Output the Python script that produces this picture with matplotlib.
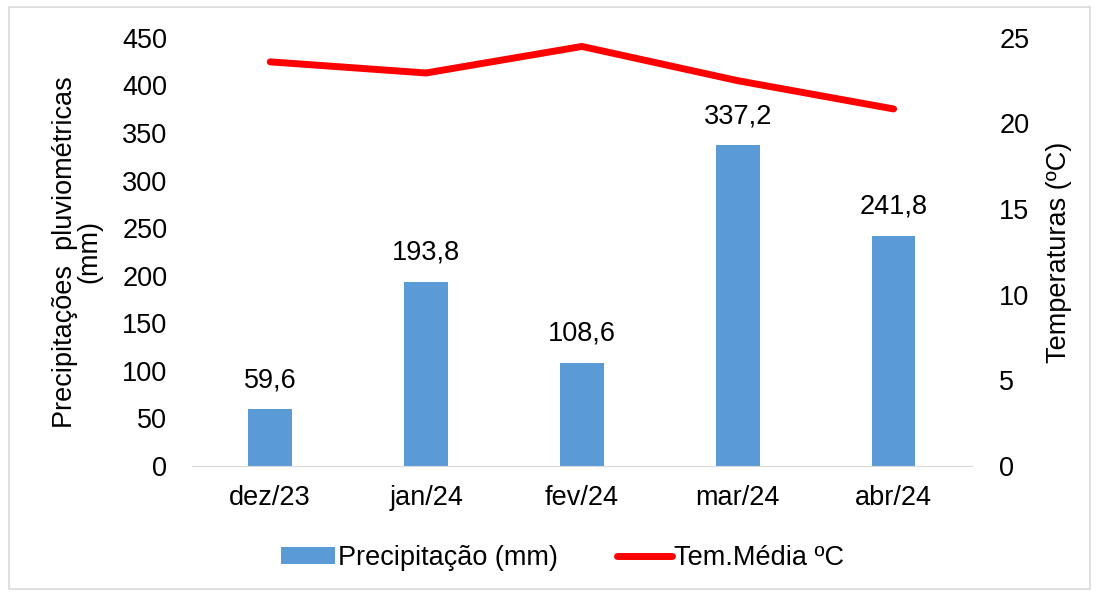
import numpy as np
import matplotlib.pyplot as plt
from matplotlib.patches import Rectangle

plt.rcParams['font.family'] = ['Liberation Sans', 'DejaVu Sans']

months = ['dez/23', 'jan/24', 'fev/24', 'mar/24', 'abr/24']
precip = [59.6, 193.8, 108.6, 337.2, 241.8]
temp = [23.6, 22.95, 24.5, 22.5, 20.85]

fig = plt.figure(figsize=(10.99, 5.92), dpi=100)
fig.patches.append(Rectangle((0.008, 0.005), 0.984, 0.983, transform=fig.transFigure,
                             fill=False, edgecolor='#d9d9d9', linewidth=1.2))

ax = fig.add_axes([0.175, 0.213, 0.709, 0.723])
x = np.arange(len(months))
bars = ax.bar(x, precip, width=0.28, color='#5b9bd5', label='Precipitação (mm)', zorder=2)
for xi, v in zip(x, precip):
    ax.text(xi, v + 17, f'{v:.1f}'.replace('.', ','), ha='center', va='bottom', fontsize=19.5)

ax.set_xlim(-0.5, len(months) - 0.5)
ax.set_ylim(0, 450)
ax.set_yticks(np.arange(0, 451, 50))
ax.set_xticks(x)
ax.set_xticklabels(months)
for s in ['top', 'right', 'left']:
    ax.spines[s].set_visible(False)
ax.spines['bottom'].set_color('#d9d9d9')
ax.tick_params(axis='both', length=0, labelsize=19.5)
ax.tick_params(axis='x', pad=14)
ax.tick_params(axis='y', pad=18)
ax.set_ylabel('Precipitações  pluviométricas\n(mm)', fontsize=19.5, linespacing=0.95, labelpad=14)

ax2 = ax.twinx()
line, = ax2.plot(x, temp, color='#ff0000', linewidth=5, solid_capstyle='round',
                 label='Tem.Média ºC', zorder=3)
ax2.set_ylim(0, 25)
ax2.set_yticks(np.arange(0, 26, 5))
for s in ['top', 'right', 'left', 'bottom']:
    ax2.spines[s].set_visible(False)
ax2.tick_params(axis='y', length=0, labelsize=19.5, pad=20)
ax2.set_ylabel('Temperaturas (ºC)', fontsize=19.5, labelpad=12)

fig.legend([bars, line], ['Precipitação (mm)', 'Tem.Média ºC'], loc='center',
           bbox_to_anchor=(0.512, 0.058), ncol=2, frameon=False, fontsize=19.5,
           handlelength=2.0, handleheight=0.6, handletextpad=0.1, columnspacing=2.2)

fig.savefig('out.png', dpi=100)
